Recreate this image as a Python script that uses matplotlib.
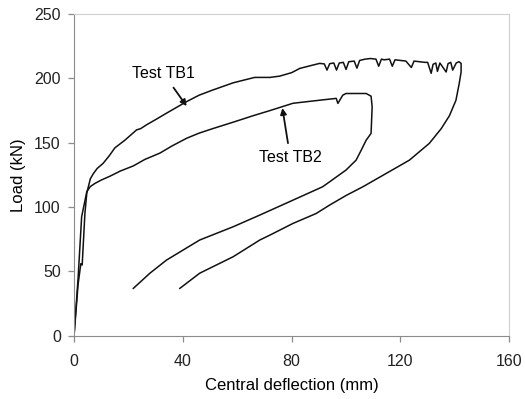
import numpy as np
import matplotlib.pyplot as plt

plt.rcParams['font.family'] = ['Liberation Sans', 'DejaVu Sans']

# Test TB1: loading branch (with jagged plateau) and unloading branch
tb1_x = [0, 1.5, 2.5, 3, 4, 4.7, 6, 7.1, 8.5, 10.7, 13, 15, 18.7, 23, 24.5, 26.7,
         30, 34, 41.4, 46, 51, 58.5, 63, 66.4, 72, 75.6, 80, 83, 88, 90.3,
         92, 93, 94, 95.5, 96.5, 97.5, 99, 100, 101, 103, 104, 105, 107, 109,
         111, 112, 113, 114, 116, 117, 118, 120, 122, 124, 125, 127, 129, 130,
         131.3, 132, 133, 133.6, 134.5, 135.5, 136.8, 137.5, 138.5, 139.2, 140.5, 141.5,
         142.3, 142.3, 141.6, 140.4, 138, 135, 130.6, 123.3, 114.8, 106.2, 100, 94,
         89, 80.5, 72, 68.3, 58.5, 46.2, 38.9]
tb1_y = [0, 40, 56, 55, 95, 111, 122, 126, 130, 134, 140, 146, 152, 160, 161, 164,
         168, 173, 182, 187, 191, 196.6, 199, 200.8, 200.8, 201.8, 204.5, 207.8, 210.5, 211.7,
         211.3, 206.5, 211.5, 212, 206.5, 212, 212.5, 207, 213, 213.5, 208, 214, 215, 215.5,
         215, 209.5, 215, 214.5, 215, 209.5, 214.5, 214, 213.5, 208.5, 213.5, 213, 212.5, 212.5,
         204, 211, 212, 205.5, 212, 209, 205, 211.5, 212.5, 206.5, 212, 213,
         211.7, 205, 196, 183, 171, 161, 149.5, 136.5, 126.2, 115.8, 109, 101.6,
         95, 87.3, 78.2, 74.4, 61.4, 48.6, 36.8]

# Test TB2
tb2_x = [0, 1.5, 2.8, 4.7, 6, 7.7, 10, 13.2, 17, 21.8, 26, 31.6, 36, 41.4, 46, 51,
         58.5, 65.8, 72, 80.5, 90, 96.4, 97, 98.8, 100, 107.4, 109.2, 109.6, 109.2,
         107.4, 105.6, 103.7, 100, 94, 91.4, 80.5, 68.3, 58.5, 46.2, 34, 27.9, 21.8]
tb2_y = [0, 45, 92.5, 112, 116, 118.4, 121, 124, 128, 132, 137, 142, 147.5, 153.5, 157.5, 161,
         166, 171, 175, 180.7, 183, 184.5, 180.6, 187, 188.3, 188.3, 186.2, 178, 157.3,
         152, 144.3, 136.5, 128.8, 119.7, 115.8, 105.4, 93.8, 84.7, 74.4, 58.8, 48.6, 36.8]

fig = plt.figure(figsize=(5.25, 3.99), dpi=100)
ax = fig.add_axes([0.141, 0.1586, 0.829, 0.806])

ax.plot(tb1_x, tb1_y, color='#111111', lw=1.1)
ax.plot(tb2_x, tb2_y, color='#111111', lw=1.1)

ax.annotate('Test TB1', xy=(41.4, 178.5), xytext=(33, 203.5), fontsize=11.5,
            ha='center', va='center',
            arrowprops=dict(arrowstyle='-|>', color='#111111', lw=1.3,
                            mutation_scale=9, shrinkA=3, shrinkB=0))
ax.annotate('Test TB2', xy=(76.6, 177), xytext=(79.5, 138.5), fontsize=11.5,
            ha='center', va='center',
            arrowprops=dict(arrowstyle='-|>', color='#111111', lw=1.3,
                            mutation_scale=9, shrinkA=3, shrinkB=0))

ax.set_xlim(0, 160)
ax.set_ylim(0, 250)
ax.set_xticks([0, 40, 80, 120, 160])
ax.set_yticks([0, 50, 100, 150, 200, 250])
ax.set_xlabel('Central deflection (mm)', fontsize=12, labelpad=6)
ax.set_ylabel('Load (kN)', fontsize=12, labelpad=6)

for s in ['left', 'bottom']:
    ax.spines[s].set_color('#8c8c8c')
for s in ['top', 'right']:
    ax.spines[s].set_color('#d0d0d0')
ax.tick_params(direction='out', length=4.5, width=0.9, color='#8c8c8c',
               labelsize=11.5, labelcolor='#222222')
ax.tick_params(axis='x', pad=9)
ax.tick_params(axis='y', pad=5)

plt.savefig('out.png', dpi=100)
